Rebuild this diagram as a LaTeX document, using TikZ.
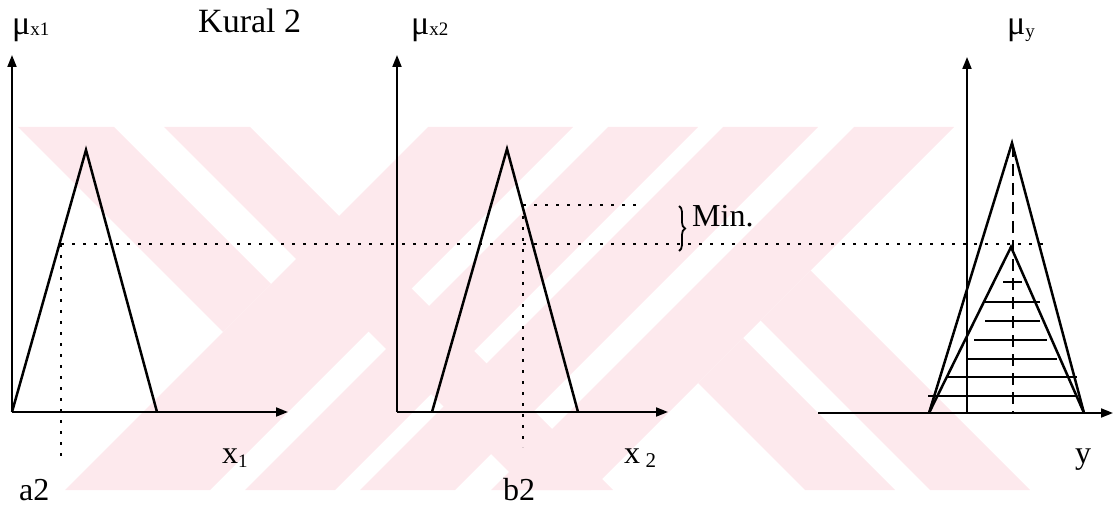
\documentclass[tikz,border=0pt]{standalone}
\usepackage{fontspec}
\setmainfont{Liberation Serif}
\usetikzlibrary{arrows.meta,decorations.pathreplacing}
\definecolor{wmark}{RGB}{253,233,237}
\begin{document}
\begin{tikzpicture}[x=1pt,y=-1pt,
  axis/.style={line width=1.9pt, -{Triangle[length=12pt,width=9pt]}},
  mf/.style={line width=2.5pt, line join=miter},
  dotl/.style={line width=2.8pt, dash pattern=on 3pt off 8pt},
  dsh/.style={line width=1.7pt, dash pattern=on 12pt off 7pt},
  hatch/.style={line width=2.2pt},
  band/.style={fill=wmark, draw=none},
  big/.style={inner sep=0pt, anchor=base west, font=\fontsize{32}{32}\selectfont},
]
\useasboundingbox (0,0) rectangle (1116,513);

% ---------- background watermark ----------
\fill[band] (18,127) -- (114,127) -- (271,284) -- (223,332) -- cycle;       % A
\fill[band] (164,127) -- (250,127) -- (613,490) -- (527,490) -- cycle;      % B
\fill[band] (428,127) -- (573,127) -- (210,490) -- (65,490) -- cycle;       % C
\fill[band] (608,127) -- (698,127) -- (335,490) -- (245,490) -- cycle;      % F
\fill[band] (723,127) -- (818,127) -- (455,490) -- (360,490) -- cycle;      % G
\fill[band] (854,127) -- (954,127) -- (591,490) -- (491,490) -- cycle;      % E
\fill[band] (760.5,320.5) -- (810.5,270.5) -- (1030,490) -- (930,490) -- cycle; % D
\fill[band] (698,383) -- (743,338) -- (895,490) -- (805,490) -- cycle;      % A'

% ---------- graph 1 ----------
\coordinate (o1) at (12,412);
\coordinate (y1) at (12,55);
\coordinate (x1e) at (288,412);
\draw[axis] (o1) -- (y1);
\draw[axis] (o1) -- (x1e);
\coordinate (t1a) at (12,412);
\coordinate (t1p) at (86,150);
\coordinate (t1b) at (157,412);
\draw[mf] (t1a) -- (t1p) -- (t1b);

% ---------- graph 2 ----------
\coordinate (o2) at (397,412);
\coordinate (y2) at (397,55);
\coordinate (x2e) at (668,412);
\draw[axis] (o2) -- (y2);
\draw[axis] (o2) -- (x2e);
\coordinate (t2a) at (432,412);
\coordinate (t2p) at (507,149);
\coordinate (t2b) at (578,412);
\draw[mf] (t2a) -- (t2p) -- (t2b);

% ---------- graph 3 ----------
\coordinate (o3) at (967,413);
\coordinate (y3) at (967,57);
\coordinate (x3s) at (818,413);
\coordinate (x3e) at (1113,413);
\draw[axis] (o3) -- (y3);
\draw[axis] (x3s) -- (x3e);
\coordinate (t3a) at (929,413);
\coordinate (t3p) at (1012,143);
\coordinate (t3b) at (1084,413);
\coordinate (s3p) at (1011,247);
\draw[mf] (t3a) -- (t3p) -- (t3b);
\draw[mf] (t3a) -- (s3p) -- (t3b);
\draw[dsh] (1013,145) -- (1013,413);
\foreach \y/\a/\b in {282/1003/1022, 302/985/1040, 321/985/1040, 340/974/1047,
                      359/967/1057, 377/948/1077, 396/928/1077}
  \draw[hatch] (\a,\y) -- (\b,\y);

% ---------- dotted guides ----------
\coordinate (c1) at (61,244);
\coordinate (c1d) at (61,462);
\coordinate (cend) at (1050,244);
\coordinate (c2) at (523,205);
\coordinate (c2e) at (643,205);
\coordinate (c2d) at (523,447);
\draw[dotl] (c1) -- (cend);
\draw[dotl] (c1) -- (c1d);
\draw[dotl] (c2) -- (c2e);
\draw[dotl] (c2) -- (c2d);

% brace and Min.
\draw[line width=1.8pt, decorate, decoration={brace, amplitude=6pt}] (679,206) -- (679,251);
\node[big] (min) at (692,226) {Min.};

% ---------- labels ----------
\node[big, font=\fontsize{34}{34}\selectfont] (kural) at (198,33) {Kural 2};
\node[inner sep=0pt, anchor=base west] (mu1) at (12,35) {\fontsize{34}{34}\selectfont μ\raisebox{-1pt}{\fontsize{19}{19}\selectfont x1}};
\node[inner sep=0pt, anchor=base west] (mu2) at (411,35) {\fontsize{34}{34}\selectfont μ\raisebox{-1pt}{\fontsize{19}{19}\selectfont x2}};
\node[inner sep=0pt, anchor=base west] (mu3) at (1007,35) {\fontsize{34}{34}\selectfont μ\raisebox{-3pt}{\fontsize{19}{19}\selectfont y}};
\node[big] (lx1) at (222,463) {x\raisebox{-4pt}{\fontsize{19}{19}\selectfont 1}};
\node[big] (lx2) at (624,463) {x\,\raisebox{-4pt}{\fontsize{21}{21}\selectfont 2}};
\node[big] (ly) at (1075,463) {y};
\node[big] (la2) at (19,500) {a2};
\node[big] (lb2) at (503,500) {b2};
\end{tikzpicture}
\end{document}
